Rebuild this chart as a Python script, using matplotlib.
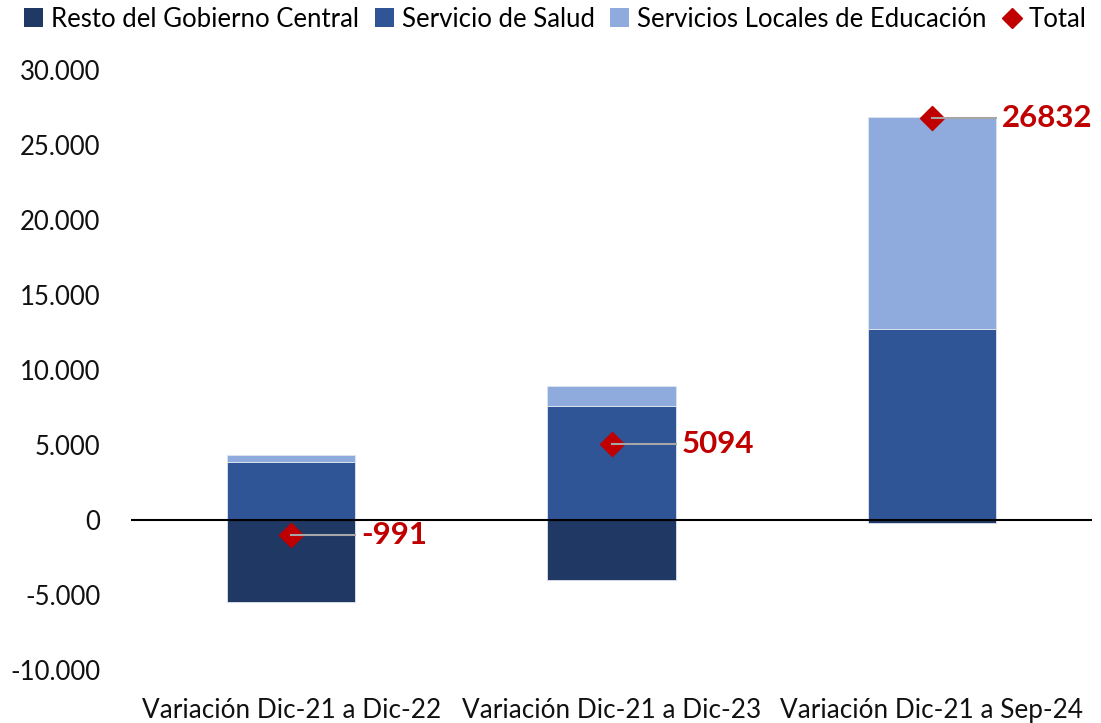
import matplotlib
matplotlib.use("Agg")
import matplotlib.pyplot as plt
from matplotlib.lines import Line2D
from matplotlib.patches import Patch
import numpy as np

plt.rcParams['font.family'] = ['Lato', 'DejaVu Sans']

categories = ["Variación Dic-21 a Dic-22", "Variación Dic-21 a Dic-23", "Variación Dic-21 a Sep-24"]
resto = [-5450, -4000, -170]
salud = [3870, 7620, 12750]
sle = [467, 1333, 14093]
total = [-991, 5094, 26832]
total_labels = ["-991", "5094", "26832"]
yticks = [-10000, -5000, 0, 5000, 10000, 15000, 20000, 25000, 30000]
ytick_labels = ["-10.000", "-5.000", "0", "5.000", "10.000", "15.000", "20.000", "25.000", "30.000"]

c_resto = "#203864"
c_salud = "#2F5597"
c_sle = "#8FAADC"
c_red = "#C00000"

fig = plt.figure(figsize=(11.01, 7.23), dpi=100)
ax = fig.add_axes([131/1101, 1 - 670/723, (1092-131)/1101, (670-70)/723])

x = np.arange(len(categories))
w = 0.4
ax.bar(x, resto, w, color=c_resto, edgecolor="#dfe5ef", linewidth=0.6, zorder=2)
ax.bar(x, salud, w, color=c_salud, edgecolor="#dfe5ef", linewidth=0.6, zorder=2)
ax.bar(x, sle, w, bottom=salud, color=c_sle, edgecolor="#dfe5ef", linewidth=0.6, zorder=2)

ax.axhline(0, color="black", linewidth=1.5, zorder=3)

for xi, t, lab in zip(x, total, total_labels):
    ax.plot([xi, xi + w/2], [t, t], color="#A6A6A6", linewidth=1.5, zorder=5)
    ax.text(xi + w/2 + 0.018, t, lab, color=c_red, fontsize=22.5, fontweight="bold",
            va="center", ha="left", zorder=6)
ax.scatter(x, total, marker="D", s=150, color=c_red, zorder=4)

ax.set_xlim(-0.5, 2.5)
ax.set_ylim(-10000, 30000)
ax.set_yticks(yticks)
ax.set_yticklabels(ytick_labels, fontsize=18.5)
ax.set_xticks(x)
ax.set_xticklabels(categories, fontsize=18.8)
ax.tick_params(axis="both", length=0, colors="#111111")
ax.tick_params(axis="y", pad=22)
ax.tick_params(axis="x", pad=20)
for s in ax.spines.values():
    s.set_visible(False)

handles = [
    Patch(facecolor=c_resto, label="Resto del Gobierno Central"),
    Patch(facecolor=c_salud, label="Servicio de Salud"),
    Patch(facecolor=c_sle, label="Servicios Locales de Educación"),
    Line2D([], [], marker="D", color=c_red, linestyle="none", markersize=10, label="Total"),
]
fig.legend(handles=handles, loc="upper left", bbox_to_anchor=(0.008, 1.012), ncol=4,
           frameon=False, fontsize=18.5, handlelength=0.75, handleheight=0.75,
           handletextpad=0.3, columnspacing=0.6, borderaxespad=0.2)

fig.savefig("out.png", dpi=100)
